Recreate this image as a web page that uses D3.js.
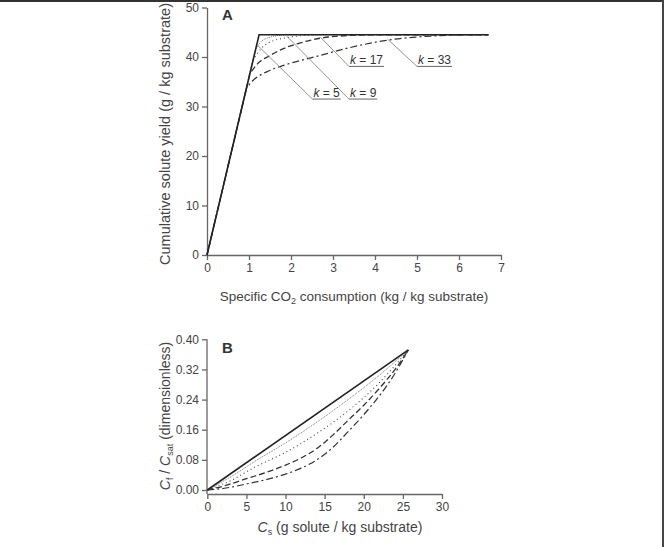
<!DOCTYPE html>
<html>
<head>
<meta charset="utf-8">
<script src="https://cdn.jsdelivr.net/npm/d3@7"></script>
<style>
    body { margin: 0; background: #fff; }
    svg { display: block; font-family: "Liberation Sans", Arial, sans-serif; }
    .axis path, .axis line { stroke: #666; stroke-width: 1.3; }
    .axis text { fill: #444; font-size: 12px; font-family: "Liberation Sans", Arial, sans-serif; }
</style>
</head>
<body>
<div id="chart"></div>
<script>
// Panel A: cumulative solute yield vs specific CO2 consumption
const solidA = [[0, 0], [1.24, 44.5], [6.7, 44.5]];
const k5A = [[0, 0], [1.16, 41.6], [1.3, 43.2], [1.5, 44.0], [1.7, 44.35], [1.9, 44.5], [6.7, 44.5]];
const k9A = [[0, 0], [1.1, 39.5], [1.3, 41.8], [1.5, 43.0], [1.9, 43.9], [2.3, 44.35], [2.7, 44.5], [6.7, 44.5]];
const k17A = [[0, 0], [1.02, 36.6], [1.2, 38.6], [1.5, 40.3], [1.82, 41.7], [2.2, 42.8], [2.7, 43.8], [3.4, 44.35], [4.0, 44.5], [6.7, 44.5]];
const k33A = [[0, 0], [0.94, 33.7], [1.1, 35.3], [1.42, 37.0], [1.82, 38.3], [2.6, 40.1], [3.4, 41.9], [4.3, 43.4], [5.5, 44.3], [6.2, 44.5], [6.7, 44.5]];

// Panel B: Cf / Csat vs Cs
const solidB = [[0, 0], [25.7, 0.372]];
const k5B = [[0, 0], [3, 0.035], [6, 0.075], [10, 0.125], [14, 0.18], [18, 0.24], [22, 0.305], [25.7, 0.372]];
const k9B = [[0, 0], [3, 0.025], [6, 0.06], [10, 0.1], [14, 0.15], [18, 0.21], [22, 0.285], [25.7, 0.372]];
const k17B = [[0, 0], [2, 0.01], [5, 0.03], [8, 0.05], [10, 0.066], [12, 0.085], [14, 0.11], [16, 0.145], [18, 0.185], [20, 0.225], [22, 0.27], [24, 0.32], [25.7, 0.372]];
const k33B = [[0, 0], [2, 0.004], [5, 0.016], [8, 0.03], [10, 0.042], [12, 0.058], [14, 0.08], [16, 0.112], [18, 0.155], [20, 0.2], [22, 0.25], [24, 0.31], [25.7, 0.372]];

const ticksAx = [0, 1, 2, 3, 4, 5, 6, 7];
const ticksAy = [0, 10, 20, 30, 40, 50];
const ticksBx = [0, 5, 10, 15, 20, 25, 30];
const ticksBy = [0, 0.08, 0.16, 0.24, 0.32, 0.40];

// k labels: text, left end of the underline (data units), point on the curve
const kLabels = [
    { text: "5", at: [2.51, 31.5], target: [1.2, 42.4] },
    { text: "9", at: [3.38, 31.5], target: [1.9, 44.2] },
    { text: "17", at: [3.38, 38.1], target: [2.7, 44.0] },
    { text: "33", at: [5.0, 38.1], target: [4.3, 43.6] }
];

const styles = [
    { color: "#222", width: 1.6, dash: null },
    { color: "#777", width: 1.0, dash: "1,1" },
    { color: "#444", width: 1.1, dash: "1,3" },
    { color: "#333", width: 1.3, dash: "6,3" },
    { color: "#333", width: 1.2, dash: "7,3,2,3" }
];

const svg = d3.select("#chart").append("svg")
    .attr("width", 668)
    .attr("height", 547);

// frame
svg.append("line").attr("x1", 0).attr("x2", 664).attr("y1", 1).attr("y2", 1)
    .attr("stroke", "#333").attr("stroke-width", 2);
svg.append("line").attr("x1", 663).attr("x2", 663).attr("y1", 0).attr("y2", 547)
    .attr("stroke", "#444").attr("stroke-width", 2);

const straight = (x, y) => d3.line().x(d => x(d[0])).y(d => y(d[1]));
const smooth = (x, y) => d3.line().x(d => x(d[0])).y(d => y(d[1])).curve(d3.curveMonotoneX);

// straight from the origin to where the curve leaves the line, smooth after it
function pathFor(points, x, y) {
    const head = `M${x(points[0][0])},${y(points[0][1])}`;
    return head + smooth(x, y)(points.slice(1)).replace(/^M/, "L");
}

function drawSeries(g, x, y, seriesList, straightHead) {
    // back to front so the solid line sits on top
    for (let i = seriesList.length - 1; i >= 0; i--) {
        const st = styles[i];
        let d;
        if (i === 0) d = straight(x, y)(seriesList[i]);
        else if (straightHead) d = pathFor(seriesList[i], x, y);
        else d = smooth(x, y)(seriesList[i]);
        g.append("path")
            .attr("fill", "none")
            .attr("stroke", st.color)
            .attr("stroke-width", st.width)
            .attr("stroke-dasharray", st.dash)
            .attr("d", d);
    }
}

// ---------- Panel A ----------
const xA = d3.scaleLinear().domain([0, 7]).range([207, 501]);
const yA = d3.scaleLinear().domain([0, 50]).range([255, 7.5]);

svg.append("g").attr("class", "axis")
    .attr("transform", "translate(0,255)")
    .call(d3.axisBottom(xA).tickValues(ticksAx).tickFormat(d3.format("d")).tickSize(5).tickSizeOuter(0).tickPadding(3));
svg.append("g").attr("class", "axis")
    .attr("transform", "translate(207,0)")
    .call(d3.axisLeft(yA).tickValues(ticksAy).tickFormat(d3.format("d")).tickSize(5).tickSizeOuter(0).tickPadding(3));

const gA = svg.append("g");
drawSeries(gA, xA, yA, [solidA, k5A, k9A, k17A, k33A], true);

kLabels.forEach(k => {
    const ax = xA(k.at[0]), ay = yA(k.at[1]);
    const t = svg.append("text")
        .attr("x", ax + 1)
        .attr("y", ay - 2)
        .attr("font-size", 12)
        .attr("fill", "#333");
    t.append("tspan").attr("font-style", "italic").text("k");
    t.append("tspan").text(" = " + k.text);
    const w = t.node().getComputedTextLength();
    svg.append("line")
        .attr("x1", ax).attr("x2", ax + w + 2)
        .attr("y1", ay).attr("y2", ay)
        .attr("stroke", "#555").attr("stroke-width", 0.9);
    svg.append("line")
        .attr("x1", ax).attr("y1", ay)
        .attr("x2", xA(k.target[0])).attr("y2", yA(k.target[1]))
        .attr("stroke", "#777").attr("stroke-width", 0.8);
});

svg.append("text").attr("x", 222).attr("y", 19.5)
    .attr("font-size", 15).attr("font-weight", "bold").attr("fill", "#333").text("A");

const xtA = svg.append("text")
    .attr("x", 354).attr("y", 301)
    .attr("text-anchor", "middle")
    .attr("font-size", 13.5).attr("fill", "#444");
xtA.append("tspan").text("Specific CO");
xtA.append("tspan").attr("font-size", 9).attr("dy", 3).text("2");
xtA.append("tspan").attr("dy", -3).text(" consumption (kg / kg substrate)");

svg.append("text")
    .attr("transform", "translate(170,134) rotate(-90)")
    .attr("text-anchor", "middle")
    .attr("font-size", 14.5).attr("fill", "#444")
    .text("Cumulative solute yield (g / kg substrate)");

// ---------- Panel B ----------
const xB = d3.scaleLinear().domain([0, 30]).range([207.3, 442]);
const yB = d3.scaleLinear().domain([0, 0.4]).range([490, 339.3]);

svg.append("g").attr("class", "axis")
    .attr("transform", "translate(0,494)")
    .call(d3.axisBottom(xB).tickValues(ticksBx).tickSize(5).tickSizeOuter(0).tickPadding(3));
const yAxisB = svg.append("g").attr("class", "axis")
    .attr("transform", "translate(207,0)")
    .call(d3.axisLeft(yB).tickValues(ticksBy).tickFormat(d3.format(".2f")).tickSize(5).tickSizeOuter(0).tickPadding(3));
yAxisB.select(".domain").attr("d", "M0,339.3V494");

const gB = svg.append("g");
drawSeries(gB, xB, yB, [solidB, k5B, k9B, k17B, k33B], false);

svg.append("text").attr("x", 222).attr("y", 352.5)
    .attr("font-size", 15).attr("font-weight", "bold").attr("fill", "#333").text("B");

const xtB = svg.append("text")
    .attr("x", 340).attr("y", 532)
    .attr("text-anchor", "middle")
    .attr("font-size", 14).attr("fill", "#444");
xtB.append("tspan").attr("font-style", "italic").text("C");
xtB.append("tspan").attr("font-size", 9).attr("dy", 3).text("s");
xtB.append("tspan").attr("dy", -3).text(" (g solute / kg substrate)");

const ytB = svg.append("text")
    .attr("transform", "translate(170,416) rotate(-90)")
    .attr("text-anchor", "middle")
    .attr("font-size", 14).attr("fill", "#444");
ytB.append("tspan").attr("font-style", "italic").text("C");
ytB.append("tspan").attr("font-size", 9).attr("dy", 3).text("f");
ytB.append("tspan").attr("dy", -3).text(" / ");
ytB.append("tspan").attr("font-style", "italic").text("C");
ytB.append("tspan").attr("font-size", 9).attr("dy", 3).text("sat");
ytB.append("tspan").attr("dy", -3).text(" (dimensionless)");
</script>
</body>
</html>
